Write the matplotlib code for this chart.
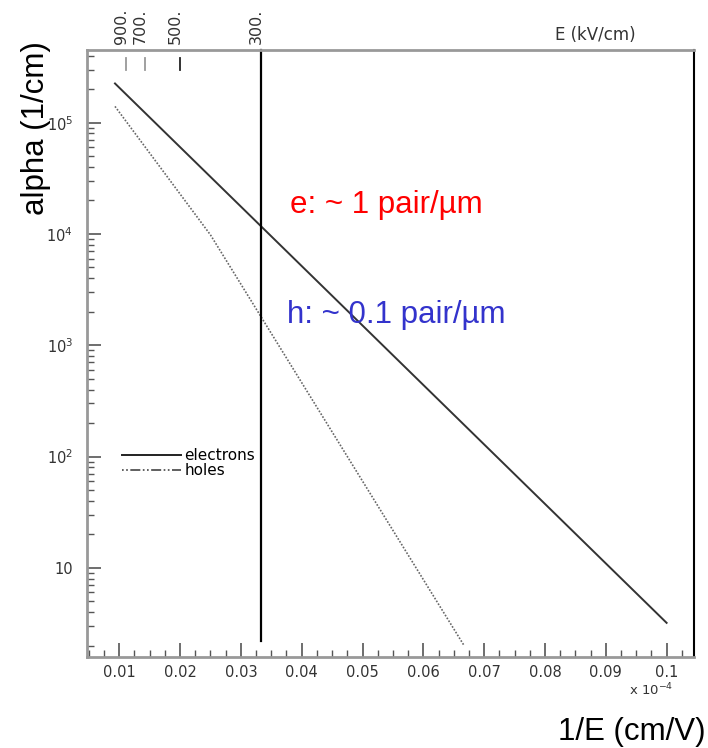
import numpy as np
import matplotlib.pyplot as plt
from matplotlib.lines import Line2D
from matplotlib.ticker import FixedLocator, MultipleLocator, LogLocator, NullFormatter

plt.rcParams['font.family'] = ['Liberation Sans', 'DejaVu Sans']

# data (x in units of 1e-4 cm/V)
elec_x = [0.0093, 0.1]
elec_y = [2.25e5, 3.2]
hole_x = [0.0093, 0.025, 0.0667]
hole_y = [1.40e5, 9.8e3, 2.0]
field_kv = [900., 700., 500., 300.]     # E markers on top, kV/cm
marker_x = [1.0 / (e * 1e3) * 1e4 for e in field_kv]
marker_col = ['#999999', '#999999', '#222222', 'black']
ytick_vals = [10, 1e2, 1e3, 1e4, 1e5]
ytick_labels = ['10', r'$10^{2}$', r'$10^{3}$', r'$10^{4}$', r'$10^{5}$']
xtick_vals = [0.01, 0.02, 0.03, 0.04, 0.05, 0.06, 0.07, 0.08, 0.09, 0.1]
xtick_labels = ['0.01', '0.02', '0.03', '0.04', '0.05', '0.06', '0.07', '0.08', '0.09', '0.1']

fig = plt.figure(figsize=(7.08, 7.48), dpi=100)
ax = fig.add_axes([0.1229, 0.1217, 0.8573, 0.8115])
ax.set_yscale('log')
ax.set_xlim(0.0047, 0.1045)
ax.set_ylim(1.58, 4.5e5)

ax.plot(elec_x, elec_y, color='#333333', lw=1.4)
ax.plot(hole_x, hole_y, color='#666666', lw=1.2, ls=(0, (1, 1)))

# vertical line at 300 kV/cm
ax.plot([marker_x[3], marker_x[3]], [2.2, 4.5e5], color='black', lw=1.6, clip_on=False)
# short field markers at top
for mx, c in zip(marker_x[:3], marker_col[:3]):
    ax.plot([mx, mx], [2.95e5, 3.85e5], color=c, lw=1.3)
for mx, lab in zip(marker_x, field_kv):
    ax.text(mx - 0.0008, 1.01, '%d.' % lab, transform=ax.get_xaxis_transform(), rotation=90,
            ha='center', va='bottom', fontsize=11.5, color='#333333', family='DejaVu Sans')
ax.text(0.837, 1.01, 'E (kV/cm)', transform=ax.transAxes, ha='center', va='bottom',
        fontsize=12, color='#333333', family='DejaVu Sans')

handles = [Line2D([], [], color='#222222', lw=1.4),
           Line2D([], [], color='#444444', lw=1.2, ls=(0, (1, 1.5, 1, 1.5, 6, 1.5)))]
ax.legend(handles, ['electrons', 'holes'], loc='upper left', bbox_to_anchor=(0.047, 0.354),
          frameon=False, handlelength=3.9, handletextpad=0.2, labelspacing=0.0,
          borderaxespad=0.0, prop={'family': 'DejaVu Sans', 'size': 11})

ax.text(0.334, 0.745, 'e: ~ 1 pair/\u00b5m', transform=ax.transAxes, color='#ff0000',
        fontsize=22.5, va='center')
ax.text(0.33, 0.563, 'h: ~ 0.1 pair/\u00b5m', transform=ax.transAxes, color='#3333cc',
        fontsize=22.5, va='center')

ax.set_ylabel('alpha (1/cm)', fontsize=22.5)
ax.yaxis.set_label_coords(-0.06, 0.871)
fig.text(0.996, 0.022, '1/E (cm/V)', ha='right', va='center', fontsize=22.5)
ax.text(0.966, -0.04, r'x 10$^{-4}$', transform=ax.transAxes, ha='right', va='top',
        fontsize=9.5, color='#333333', family='DejaVu Sans')

ax.xaxis.set_major_locator(FixedLocator(xtick_vals))
ax.set_xticklabels(xtick_labels)
ax.xaxis.set_minor_locator(MultipleLocator(0.0025))
ax.yaxis.set_major_locator(FixedLocator(ytick_vals))
ax.set_yticklabels(ytick_labels)
ax.yaxis.set_minor_locator(LogLocator(base=10, subs=np.arange(2, 10)))
ax.yaxis.set_minor_formatter(NullFormatter())

ax.tick_params(which='both', direction='in', color='#555555', labelcolor='#333333',
               labelsize=10.5, top=False, right=False)
ax.tick_params(which='major', length=10, width=1.2)
ax.tick_params(which='minor', length=5, width=1.0)
ax.tick_params(axis='x', pad=6)
ax.tick_params(axis='y', pad=10)
for lab in ax.get_xticklabels() + ax.get_yticklabels():
    lab.set_family('DejaVu Sans')

for s in ['left', 'bottom', 'top']:
    ax.spines[s].set_color('#999999')
    ax.spines[s].set_linewidth(2)
ax.spines['right'].set_color('black')
ax.spines['right'].set_linewidth(1.5)

fig.savefig('out.png', dpi=100)
